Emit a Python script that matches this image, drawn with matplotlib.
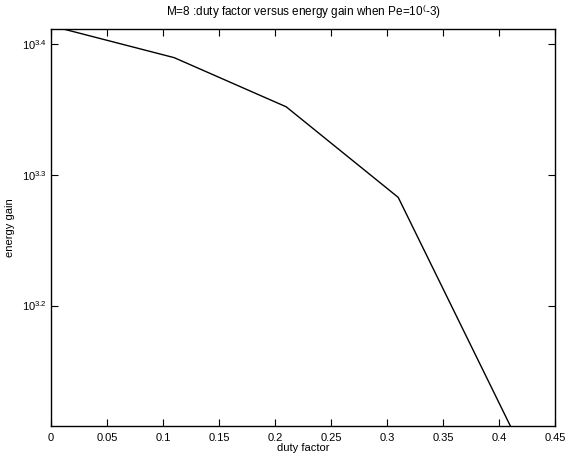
import numpy as np
import matplotlib.pyplot as plt
from matplotlib.ticker import FixedLocator, NullLocator

plt.rcParams['font.family'] = ['Liberation Sans', 'DejaVu Sans']
plt.rcParams['mathtext.fontset'] = 'custom'
plt.rcParams['mathtext.rm'] = 'Liberation Sans'
plt.rcParams['mathtext.it'] = 'Liberation Sans'

# duty factor vs energy gain (M=8, Pe=1e-3)
dutyFactor = [0.01, 0.11, 0.21, 0.31, 0.41]
energyGain = [2579, 2451, 2248, 1917, 1283]
yTickExp = [3.2, 3.3, 3.4]
xTicks = [0, 0.05, 0.1, 0.15, 0.2, 0.25, 0.3, 0.35, 0.4, 0.45]

fig = plt.figure(figsize=(5.66, 4.53), dpi=100)
ax = fig.add_axes([0.0901, 0.0603, 0.8905, 0.8763])
ax.plot(dutyFactor, energyGain, color='black', linewidth=1.0)
ax.set_yscale('log')
ax.set_xlim(0, 0.45)
ax.set_ylim(min(energyGain), max(energyGain))

ax.xaxis.set_major_locator(FixedLocator(xTicks))
ax.set_xticklabels(["0" if t == 0 else ("%g" % t) for t in xTicks])
ax.yaxis.set_major_locator(FixedLocator([10 ** e for e in yTickExp]))
ax.yaxis.set_minor_locator(NullLocator())
ax.set_yticklabels(["10$^{%.1f}$" % e for e in yTickExp])

ax.tick_params(direction='in', length=5, width=0.8, top=True, right=True,
               labelsize=8)
ax.tick_params(axis='x', pad=5)
ax.tick_params(axis='y', pad=3)
for s in ax.spines.values():
    s.set_linewidth(1.0)

ax.set_title("M=8 :duty factor versus energy gain when Pe=10$^($-3)", fontsize=8.5, pad=9)
ax.set_xlabel("duty factor", fontsize=8, labelpad=0)
ax.set_ylabel("energy gain", fontsize=8)
ax.yaxis.set_label_coords(-0.071, 0.5)

fig.savefig("out.png", dpi=100)
